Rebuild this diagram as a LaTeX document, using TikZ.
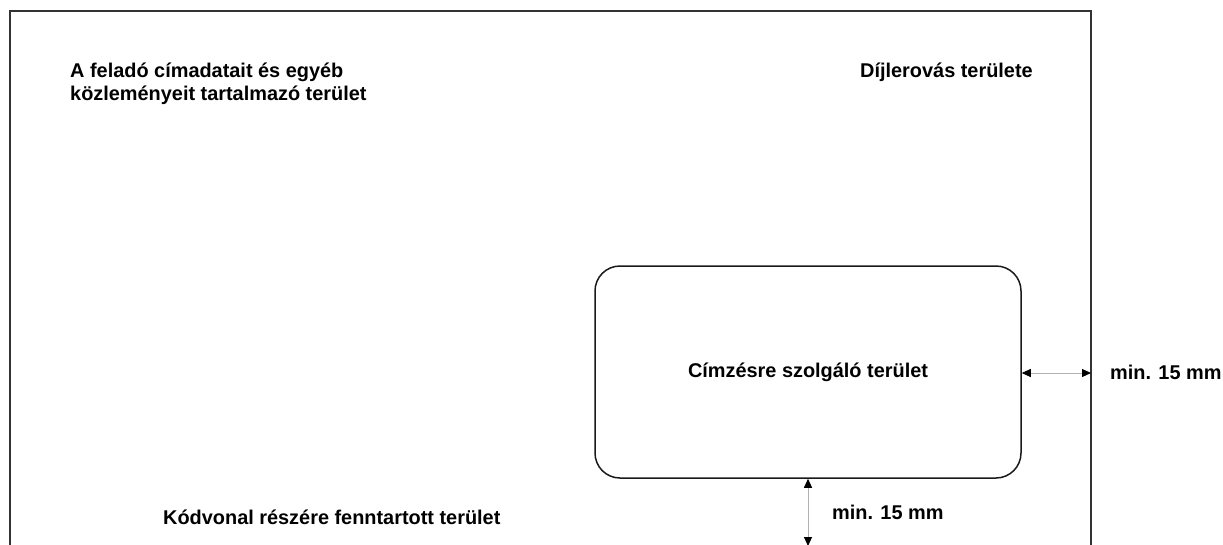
\documentclass[tikz,border=0pt]{standalone}
\usepackage{fontspec}
\setmainfont{Liberation Sans}
\usetikzlibrary{arrows.meta}
\begin{document}
\begin{tikzpicture}[x=1pt,y=-1pt,
  lbl/.style={font=\fontsize{19.9}{23}\selectfont\bfseries, inner sep=0pt, align=left},
  frame/.style={draw=black!80, line width=2pt},
  area/.style={draw=black!90, line width=1.5pt, rounded corners=25pt},
  dim/.style={draw=black!30, line width=0.9pt, {Triangle[length=9pt,width=8pt,fill=black,color=black]}-{Triangle[length=9pt,width=8pt,fill=black,color=black]}}
]
\useasboundingbox (0,0) rectangle (1223,544);
\draw[frame] (10,548) -- (10,11) -- (1091,11) -- (1091,548);
\coordinate (rightedge) at (1091,373);
\coordinate (bottomedge) at (808,546);
\node[area, minimum width=426pt, minimum height=212pt, inner sep=0pt] (addr) at (808,372) {};
\node[lbl, anchor=center] (addrtxt) at (808,372) {Címzésre szolgáló terület};
\node[lbl, anchor=west] (sender) at (70,84) {A feladó címadatait és egyéb\\közleményeit tartalmazó terület};
\node[lbl, anchor=west] (fee) at (860,72) {Díjlerovás területe};
\node[lbl, anchor=west] (code) at (163,517) {Kódvonal részére fenntartott terület};
\node[lbl, anchor=west] (min1) at (1110,372) {min. 15 mm};
\node[lbl, anchor=west] (min2) at (832,512) {min. 15 mm};
\draw[dim] (addr.east |- rightedge) -- (rightedge);
\draw[dim] (addr.south -| bottomedge) -- (bottomedge);
\end{tikzpicture}
\end{document}
